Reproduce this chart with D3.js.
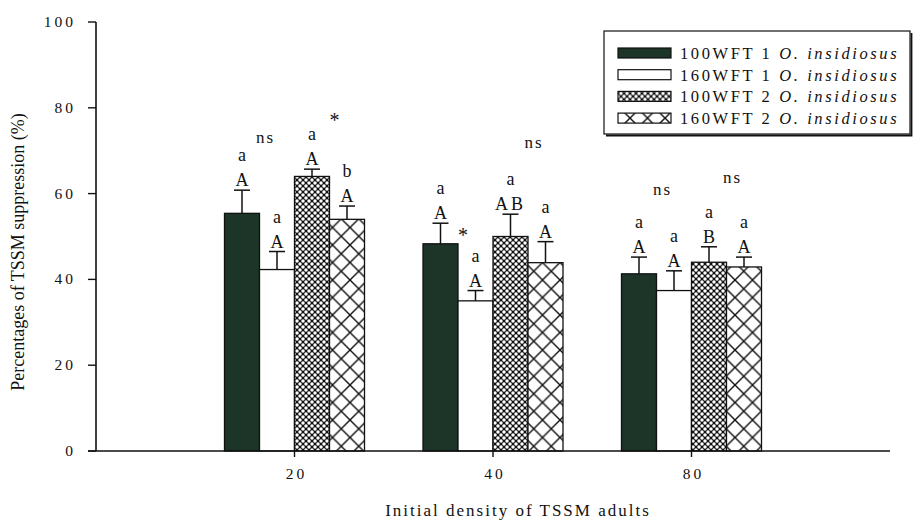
<!DOCTYPE html>
<html>
<head>
<meta charset="utf-8">
<script src="https://cdn.jsdelivr.net/npm/d3@7"></script>
<style>
  body { margin: 0; background: #fff; }
  text { font-family: "Liberation Serif", "Times New Roman", serif; fill: #111; }
</style>
</head>
<body>
<div id="container"></div>
<script>
/* DATA */
const densities = ["20", "40", "80"];
const treatments = ["100WFT 1", "160WFT 1", "100WFT 2", "160WFT 2"];
// mean % suppression, one row per density, one column per treatment
const means = [
  [55.4, 42.3, 64.0, 54.0],
  [48.3, 35.0, 50.0, 43.9],
  [41.3, 37.4, 44.0, 42.9]
];
const errors = [
  [5.4, 4.2, 1.7, 3.1],
  [4.8, 2.4, 5.2, 4.9],
  [3.9, 4.6, 3.6, 2.3]
];
const upperLetters = [
  ["A", "A", "A", "A"],
  ["A", "A", "AB", "A"],
  ["A", "A", "B", "A"]
];
const lowerLetters = [
  ["a", "a", "a", "b"],
  ["a", "a", "a", "a"],
  ["a", "a", "a", "a"]
];
// WFT 1 pair and WFT 2 pair comparisons, with the level they are written at
const pairMarks = [["ns", "*"], ["*", "ns"], ["ns", "ns"]];
const pairLevels = [[71.8, 75.5], [48.7, 70.6], [59.7, 62.5]];
const yTicks = [0, 20, 40, 60, 80, 100];

/* CONSTANTS */
const width = 916, height = 524;
const margin = { top: 22, bottom: 73, left: 96, right: 26 };
const barW = 35;

const svg = d3.select("#container")
  .append("svg")
  .attr("width", width)
  .attr("height", height);

// PATTERNS
const defs = svg.append("defs");
const fine = defs.append("pattern")
  .attr("id", "fine")
  .attr("patternUnits", "userSpaceOnUse")
  .attr("width", 6).attr("height", 6);
fine.append("rect").attr("width", 6).attr("height", 6).attr("fill", "#111");
[[3, 3], [0, 0], [6, 0], [0, 6], [6, 6]].forEach(([cx, cy]) => {
  fine.append("circle").attr("cx", cx).attr("cy", cy).attr("r", 1.75).attr("fill", "#fff");
});

const cross = defs.append("pattern")
  .attr("id", "cross")
  .attr("patternUnits", "userSpaceOnUse")
  .attr("width", 17.5).attr("height", 17.5);
cross.append("rect").attr("width", 17.5).attr("height", 17.5).attr("fill", "#fff");
cross.append("path")
  .attr("d", "M0,0L17.5,17.5M17.5,0L0,17.5")
  .attr("stroke", "#111").attr("stroke-width", 1.4);

const fills = ["#1d3529", "#fff", "url(#fine)", "url(#cross)"];

// SCALES
const x = d3.scalePoint()
  .domain(densities)
  .range([margin.left, width - margin.right])
  .padding(1);

const y = d3.scaleLinear()
  .domain([0, 100])
  .range([height - margin.bottom, margin.top]);

// BARS
const rows = densities.flatMap((d, gi) => treatments.map((t, ti) => ({
  density: d, gi, ti,
  mean: means[gi][ti],
  err: errors[gi][ti],
  upper: upperLetters[gi][ti],
  lower: lowerLetters[gi][ti]
})));
const barX = d => x(d.density) - 2 * barW + d.ti * barW;

svg.selectAll(".bar")
  .data(rows)
  .join("rect")
  .attr("class", "bar")
  .attr("x", barX)
  .attr("y", d => y(d.mean))
  .attr("width", barW)
  .attr("height", d => y(0) - y(d.mean))
  .attr("fill", d => fills[d.ti])
  .attr("stroke", "#111")
  .attr("stroke-width", 1.3);

// ERROR BARS
const eb = svg.selectAll(".err")
  .data(rows)
  .join("g")
  .attr("class", "err")
  .attr("stroke", "#111")
  .attr("stroke-width", 1.5);
eb.append("line")
  .attr("x1", d => barX(d) + barW / 2).attr("x2", d => barX(d) + barW / 2)
  .attr("y1", d => y(d.mean)).attr("y2", d => y(d.mean + d.err));
eb.append("line")
  .attr("x1", d => barX(d) + barW / 2 - 8).attr("x2", d => barX(d) + barW / 2 + 8)
  .attr("y1", d => y(d.mean + d.err)).attr("y2", d => y(d.mean + d.err));

// LETTERS
svg.selectAll(".upper")
  .data(rows)
  .join("text")
  .attr("class", "upper")
  .attr("x", d => barX(d) + barW / 2)
  .attr("y", d => y(d.mean + d.err) - 4)
  .attr("text-anchor", "middle")
  .attr("font-size", 18)
  .attr("letter-spacing", d => d.upper.length > 1 ? 3 : 0)
  .text(d => d.upper);

svg.selectAll(".lower")
  .data(rows)
  .join("text")
  .attr("class", "lower")
  .attr("x", d => barX(d) + barW / 2)
  .attr("y", d => y(d.mean + d.err) - 29)
  .attr("text-anchor", "middle")
  .attr("font-size", 18)
  .text(d => d.lower);

// PAIR SIGNIFICANCE
const pairs = densities.flatMap((d, gi) => [0, 1].map(p => ({
  density: d, p, mark: pairMarks[gi][p], level: pairLevels[gi][p]
})));
svg.selectAll(".pair")
  .data(pairs)
  .join("text")
  .attr("class", "pair")
  .attr("x", d => x(d.density) - barW + d.p * 2 * barW + 6)
  .attr("y", d => y(d.level))
  .attr("text-anchor", "middle")
  .attr("font-size", d => d.mark === "*" ? 20 : 17)
  .attr("letter-spacing", 2)
  .text(d => d.mark);

// AXES
const yAxis = svg.append("g");
yAxis.append("line")
  .attr("x1", margin.left).attr("x2", margin.left)
  .attr("y1", y(100)).attr("y2", y(0))
  .attr("stroke", "#111").attr("stroke-width", 1.6);
yAxis.selectAll(".ytick")
  .data(yTicks)
  .join("line")
  .attr("x1", margin.left - 8).attr("x2", margin.left)
  .attr("y1", d => y(d)).attr("y2", d => y(d))
  .attr("stroke", "#111").attr("stroke-width", 1.4);
yAxis.selectAll(".ylab")
  .data(yTicks)
  .join("text")
  .attr("x", margin.left - 20)
  .attr("y", d => y(d) + 5)
  .attr("text-anchor", "end")
  .attr("font-size", 15.5)
  .attr("letter-spacing", 3)
  .text(d => d);

const xAxis = svg.append("g");
xAxis.append("line")
  .attr("x1", margin.left - 8).attr("x2", width - margin.right)
  .attr("y1", y(0)).attr("y2", y(0))
  .attr("stroke", "#111").attr("stroke-width", 1.6);
xAxis.selectAll(".xtick")
  .data(densities)
  .join("line")
  .attr("x1", d => x(d)).attr("x2", d => x(d))
  .attr("y1", y(0)).attr("y2", y(0) + 6)
  .attr("stroke", "#111").attr("stroke-width", 1.4);
xAxis.selectAll(".xlab")
  .data(densities)
  .join("text")
  .attr("x", d => x(d) + 2)
  .attr("y", y(0) + 28)
  .attr("text-anchor", "middle")
  .attr("font-size", 15.5)
  .attr("letter-spacing", 3)
  .text(d => d);

// AXIS TITLES
svg.append("text")
  .attr("x", 518).attr("y", 516)
  .attr("text-anchor", "middle")
  .attr("font-size", 17)
  .attr("letter-spacing", 2)
  .text("Initial density of TSSM adults");

svg.append("text")
  .attr("transform", "translate(24, 252) rotate(-90)")
  .attr("text-anchor", "middle")
  .attr("font-size", 18)
  .text("Percentages of TSSM suppression (%)");

// LEGEND
const legend = svg.append("g");
legend.append("rect")
  .attr("x", 604).attr("y", 31).attr("width", 306).attr("height", 103)
  .attr("fill", "#fff").attr("stroke", "#111").attr("stroke-width", 1.2);
legend.append("path")
  .attr("d", "M606,135.5H911.5V33")
  .attr("fill", "none").attr("stroke", "#111").attr("stroke-width", 1.8);

const items = legend.selectAll(".item")
  .data(treatments)
  .join("g")
  .attr("class", "item")
  .attr("transform", (d, i) => `translate(0, ${53 + i * 21.7})`);
items.append("rect")
  .attr("x", 618).attr("y", -5).attr("width", 53).attr("height", 10)
  .attr("fill", (d, i) => fills[i])
  .attr("stroke", "#111").attr("stroke-width", 1.2);
const lt = items.append("text")
  .attr("x", 680).attr("y", 6)
  .attr("font-size", 16.5)
  .attr("letter-spacing", 2.6);
lt.append("tspan").text(d => d + " ");
lt.append("tspan").attr("font-style", "italic").text("O. insidiosus");
</script>
</body>
</html>
